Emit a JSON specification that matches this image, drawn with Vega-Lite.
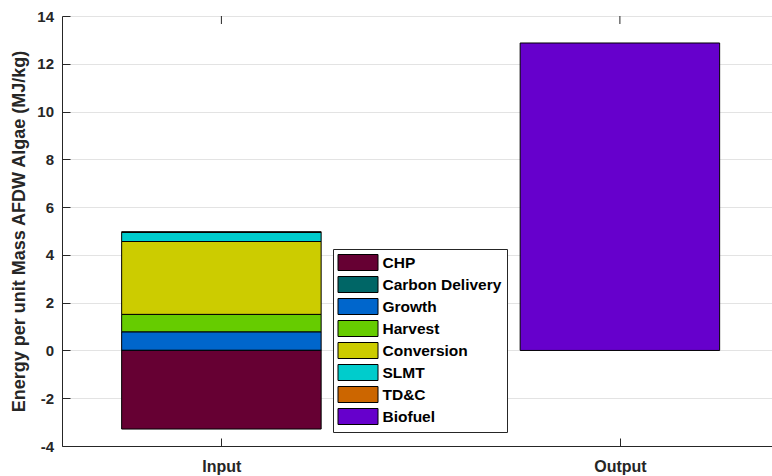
{
  "$schema": "https://vega.github.io/schema/vega-lite/v6.json",
  "width": 710,
  "height": 430,
  "autosize": "none",
  "padding": {"left": 62, "top": 16, "right": 0, "bottom": 30},
  "background": "white",
  "config": {
    "view": {"stroke": null},
    "font": "Liberation Sans",
    "axis": {
      "domainColor": "#262626",
      "tickColor": "#262626",
      "labelColor": "#262626",
      "titleColor": "#262626",
      "labelFont": "Liberation Sans",
      "labelFontWeight": "bold",
      "labelFontSize": 15,
      "gridColor": "#e3e3e3",
      "gridWidth": 1,
      "domainWidth": 1,
      "tickWidth": 1
    }
  },
  "datasets": {
    "energy": [
      {"pos": 1, "series": "CHP", "k": 1, "value": -3.29},
      {"pos": 1, "series": "Carbon Delivery", "k": 2, "value": 0.01},
      {"pos": 1, "series": "Growth", "k": 3, "value": 0.77},
      {"pos": 1, "series": "Harvest", "k": 4, "value": 0.73},
      {"pos": 1, "series": "Conversion", "k": 5, "value": 3.05},
      {"pos": 1, "series": "SLMT", "k": 6, "value": 0.38},
      {"pos": 1, "series": "TD&C", "k": 7, "value": 0.03},
      {"pos": 2, "series": "Biofuel", "k": 8, "value": 12.87}
    ],
    "stages": [
      {"pos": 1},
      {"pos": 2}
    ]
  },
  "layer": [
    {
      "mark": {"type": "rule", "color": "#000000", "strokeWidth": 1},
      "encoding": {"y": {"datum": 0, "type": "quantitative", "scale": {"domain": [-4, 14], "nice": false}}}
    },
    {
      "mark": {"type": "rule", "color": "#262626", "strokeWidth": 1},
      "encoding": {"y": {"datum": 14, "type": "quantitative"}}
    },
    {
      "data": {"name": "stages"},
      "mark": {"type": "rule", "color": "#262626", "strokeWidth": 1},
      "encoding": {
        "x": {"field": "pos", "type": "quantitative"},
        "y": {"datum": 14, "type": "quantitative"},
        "y2": {"datum": 13.665}
      }
    },
    {
      "data": {"name": "energy"},
      "mark": {"type": "bar", "size": 199.5, "stroke": "#000000", "strokeWidth": 1},
      "encoding": {
        "x": {
          "field": "pos",
          "type": "quantitative",
          "scale": {"domain": [0.6, 2.3817], "nice": false, "zero": false, "padding": 0},
          "axis": {
            "orient": "bottom",
            "values": [1, 2],
            "labelExpr": "datum.value == 1 ? 'Input' : 'Output'",
            "labelFontSize": 16,
            "title": null,
            "grid": false,
            "tickSize": -8,
            "labelPadding": 20
          }
        },
        "y": {
          "field": "value",
          "type": "quantitative",
          "stack": "zero",
          "scale": {"domain": [-4, 14], "nice": false},
          "axis": {
            "values": [-4, -2, 0, 2, 4, 6, 8, 10, 12, 14],
            "labelExpr": "datum.value < 0 ? '-' + abs(datum.value) : '' + datum.value",
            "title": "Energy per unit Mass AFDW Algae (MJ/kg)",
            "titleFontSize": 18,
            "titleFontWeight": "bold",
            "titleAngle": -90,
            "titleX": -38,
            "titleY": 215,
            "titleAlign": "center",
            "titleBaseline": "alphabetic",
            "grid": true,
            "tickSize": -8,
            "labelPadding": 16.5
          }
        },
        "order": {"field": "k", "type": "quantitative"},
        "color": {
          "field": "series",
          "type": "nominal",
          "scale": {
            "domain": ["CHP", "Carbon Delivery", "Growth", "Harvest", "Conversion", "SLMT", "TD&C", "Biofuel"],
            "range": ["#660033", "#006666", "#0066cc", "#66cc00", "#cccc00", "#00cccc", "#cc6600", "#6600cc"]
          },
          "legend": {
            "orient": "none",
            "legendX": 271,
            "legendY": 233,
            "title": null,
            "padding": 5,
            "fillColor": "white",
            "strokeColor": "#262626",
            "symbolType": "M-2.5,-1H2.5V1H-2.5Z",
            "symbolSize": 256,
            "symbolOffset": 11.5,
            "symbolStrokeColor": "#000000",
            "symbolStrokeWidth": 1,
            "symbolOpacity": 1,
            "labelFont": "Liberation Sans",
            "labelFontWeight": "bold",
            "labelFontSize": 15.5,
            "labelColor": "#000000",
            "labelOffset": 16,
            "rowPadding": 1
          }
        }
      }
    }
  ]
}
